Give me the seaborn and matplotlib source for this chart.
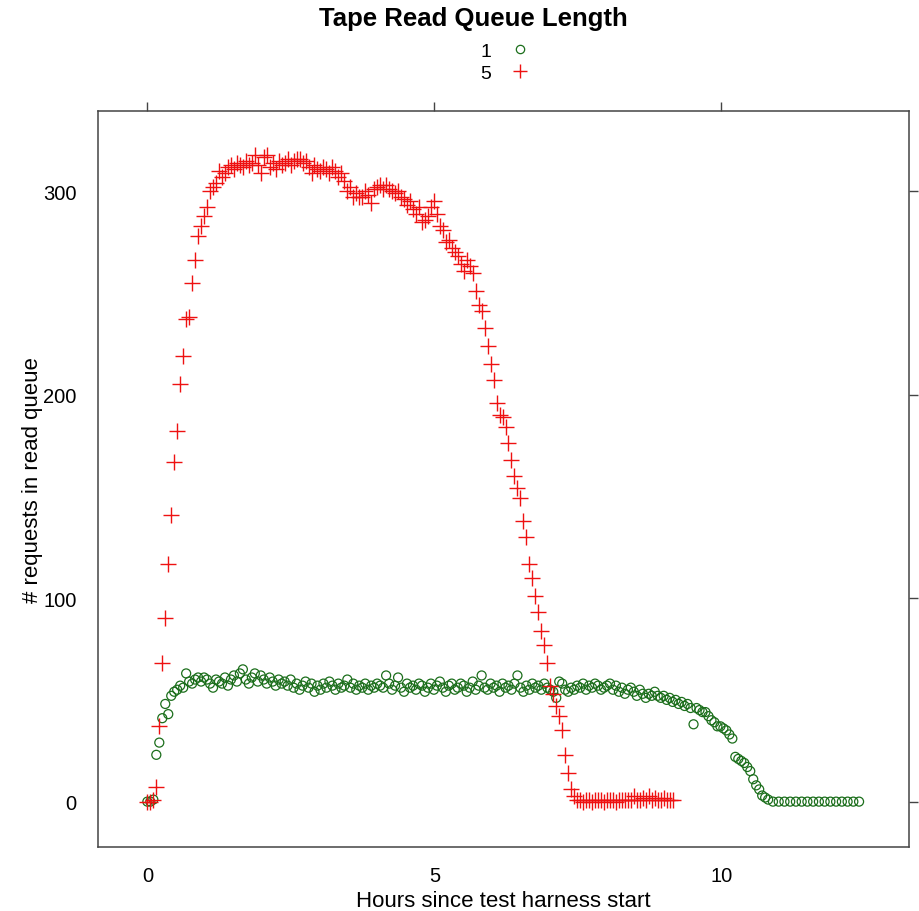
import numpy as np
import pandas as pd
import matplotlib
matplotlib.use("Agg")
import matplotlib.pyplot as plt
import seaborn as sns
from matplotlib.lines import Line2D

# queue samples were taken every ~3 minutes
SAMPLE_STEP = 0.052  # hours

# 5 tape drives (red +)
queue_5 = [
    0, 0, 1, 7, 37, 68, 90, 117, 141, 167, 182, 205, 219, 237, 238, 255, 266, 278, 283, 288, 292, 300, 302, 304, 310,
    307, 309, 312, 313, 311, 314, 313, 312, 315, 313, 314, 318, 313, 309, 317, 318, 312, 314, 311, 315, 313, 314, 316, 313, 315,
    316, 316, 314, 315, 312, 309, 313, 311, 310, 312, 311, 309, 312, 310, 307, 309, 305, 300, 302, 297, 299, 297, 297, 300, 298,
    294, 301, 302, 303, 301, 303, 301, 300, 299, 300, 297, 296, 293, 295, 291, 289, 292, 285, 286, 288, 292, 295, 289, 283, 281,
    275, 276, 272, 270, 268, 264, 261, 266, 263, 260, 251, 244, 241, 233, 224, 215, 207, 196, 190, 189, 184, 176, 168, 160, 154,
    149, 138, 130, 117, 110, 101, 93, 84, 77, 68, 57, 53, 47, 42, 35, 23, 14, 6, 3,
    1, 1, 0, 1, 1, 0, 1, 1, 1, 0, 1, 1, 1, 0, 1, 1, 1, 1, 1, 3, 1, 1, 2, 1, 3, 1, 2, 1, 1, 2, 1, 1, 1,
]

# 1 tape drive (green o)
queue_1 = [
    0, 0, 1, 23, 29, 41, 48, 43, 52, 54, 55, 57, 56, 63, 59, 58, 60, 61, 59, 61, 60, 58, 56, 60, 59,
    58, 61, 57, 60, 62, 59, 63, 65, 60, 58, 61, 63, 59, 62, 60, 58, 61, 59, 57, 60, 58,
    59, 57, 60, 56, 58, 55, 57, 59, 56, 58, 54, 57, 55, 58, 56, 59, 57, 55, 58, 56, 57, 60, 56, 58, 55,
    57, 56, 58, 55, 57, 56, 58, 57, 56, 62, 58, 55, 57, 61, 56, 54, 58, 56, 57, 55, 58, 57, 54, 56, 58,
    55, 57, 59, 56, 54, 57, 58, 55, 56, 58, 57, 54, 56, 59, 55, 57, 62, 56, 55, 58, 56, 57, 54, 58, 56,
    57, 55, 58, 62, 56, 54, 57, 55, 58, 56, 57, 55, 58, 56, 55, 54, 51, 59, 58, 55, 54, 56, 55, 57, 56,
    58, 55, 57, 56, 58, 57, 55, 56, 57, 58, 55, 57, 54, 56, 53, 55, 56, 54, 52, 55, 53, 51, 53, 52, 54,
    52, 51, 52, 50, 51, 49, 50, 48, 49, 47, 48, 46, 38, 46, 45, 44, 44, 42, 40, 39, 37, 37, 36, 35, 33, 31,
    22, 21, 20, 19, 17, 15, 11, 8, 6, 3, 2, 1,
]
# after the queue drained the 1-drive run was sampled less often
tail_hours_1 = [10.9, 11.0, 11.1, 11.2, 11.3, 11.4, 11.5, 11.6, 11.7, 11.8, 11.9, 12.0, 12.1, 12.2, 12.3, 12.4]
tail_queue_1 = [0, 0, 0, 0, 0, 0, 0, 0, 0, 0, 0, 0, 0, 0, 0, 0]

drives = ["1", "5"]
colors = {"1": "#1b6e1b", "5": "#ee1111"}

df1 = pd.DataFrame({
    "hours": np.concatenate([np.arange(len(queue_1)) * SAMPLE_STEP, tail_hours_1]),
    "queue": queue_1 + tail_queue_1,
    "drives": "1",
})
df5 = pd.DataFrame({
    "hours": np.arange(len(queue_5)) * SAMPLE_STEP,
    "queue": queue_5,
    "drives": "5",
})
df = pd.concat([df1, df5], ignore_index=True)

sns.set_style("white")
plt.rcParams["font.family"] = ["Liberation Sans", "DejaVu Sans"]
plt.rcParams["text.color"] = "black"
plt.rcParams["axes.labelcolor"] = "black"

fig = plt.figure(figsize=(9.2, 9.12), dpi=100)
ax = fig.add_axes([98 / 920, 64 / 912, 811 / 920, 736 / 912])

sns.scatterplot(data=df[df.drives == "1"], x="hours", y="queue", marker="o", s=42,
                facecolor="none", edgecolor=colors["1"], linewidth=0.9, ax=ax, legend=False)
sns.scatterplot(data=df[df.drives == "5"], x="hours", y="queue", marker="+", s=120,
                color=colors["5"], linewidth=1.0, ax=ax, legend=False)

ax.set_xlim(-0.86, 13.27)
ax.set_ylim(-22.3, 339.4)
ax.set_xticks([0, 5, 10])
ax.set_yticks([0, 100, 200, 300])

frame_col = "#444444"
for sp in ax.spines.values():
    sp.set_color(frame_col)
    sp.set_linewidth(1.1)
ax.tick_params(direction="out", length=6.5, width=1, color=frame_col,
               top=True, right=True, labeltop=False, labelright=False,
               labelsize=14.5, labelcolor="black")
ax.tick_params(axis="x", pad=7)
ax.tick_params(axis="y", pad=9)

ax.set_xlabel("Hours since test harness start", fontsize=16, color="black")
ax.set_ylabel("# requests in read queue", fontsize=16, color="black")
ax.xaxis.set_label_coords(0.5, -0.058)
ax.yaxis.set_label_coords(-0.068, 0.5)

fig.text(0.515, 1 - 19 / 912, "Tape Read Queue Length", ha="center", va="center",
         fontsize=18.5, fontweight="bold", color="black")

handles = [
    Line2D([], [], linestyle="none", marker="o", markersize=6, markerfacecolor="none",
           markeredgecolor=colors["1"], markeredgewidth=0.9),
    Line2D([], [], linestyle="none", marker="+", markersize=10, color=colors["5"],
           markeredgewidth=1.0),
]
leg = ax.legend(handles, drives, markerfirst=False, frameon=False, loc="center",
                bbox_to_anchor=(505 / 920, 1 - 63 / 912), bbox_transform=fig.transFigure,
                fontsize=14, labelspacing=0.25, handlelength=1.0, handletextpad=1.0,
                borderpad=0)
for t in leg.get_texts():
    t.set_color("black")

fig.savefig("out.png", dpi=100)
